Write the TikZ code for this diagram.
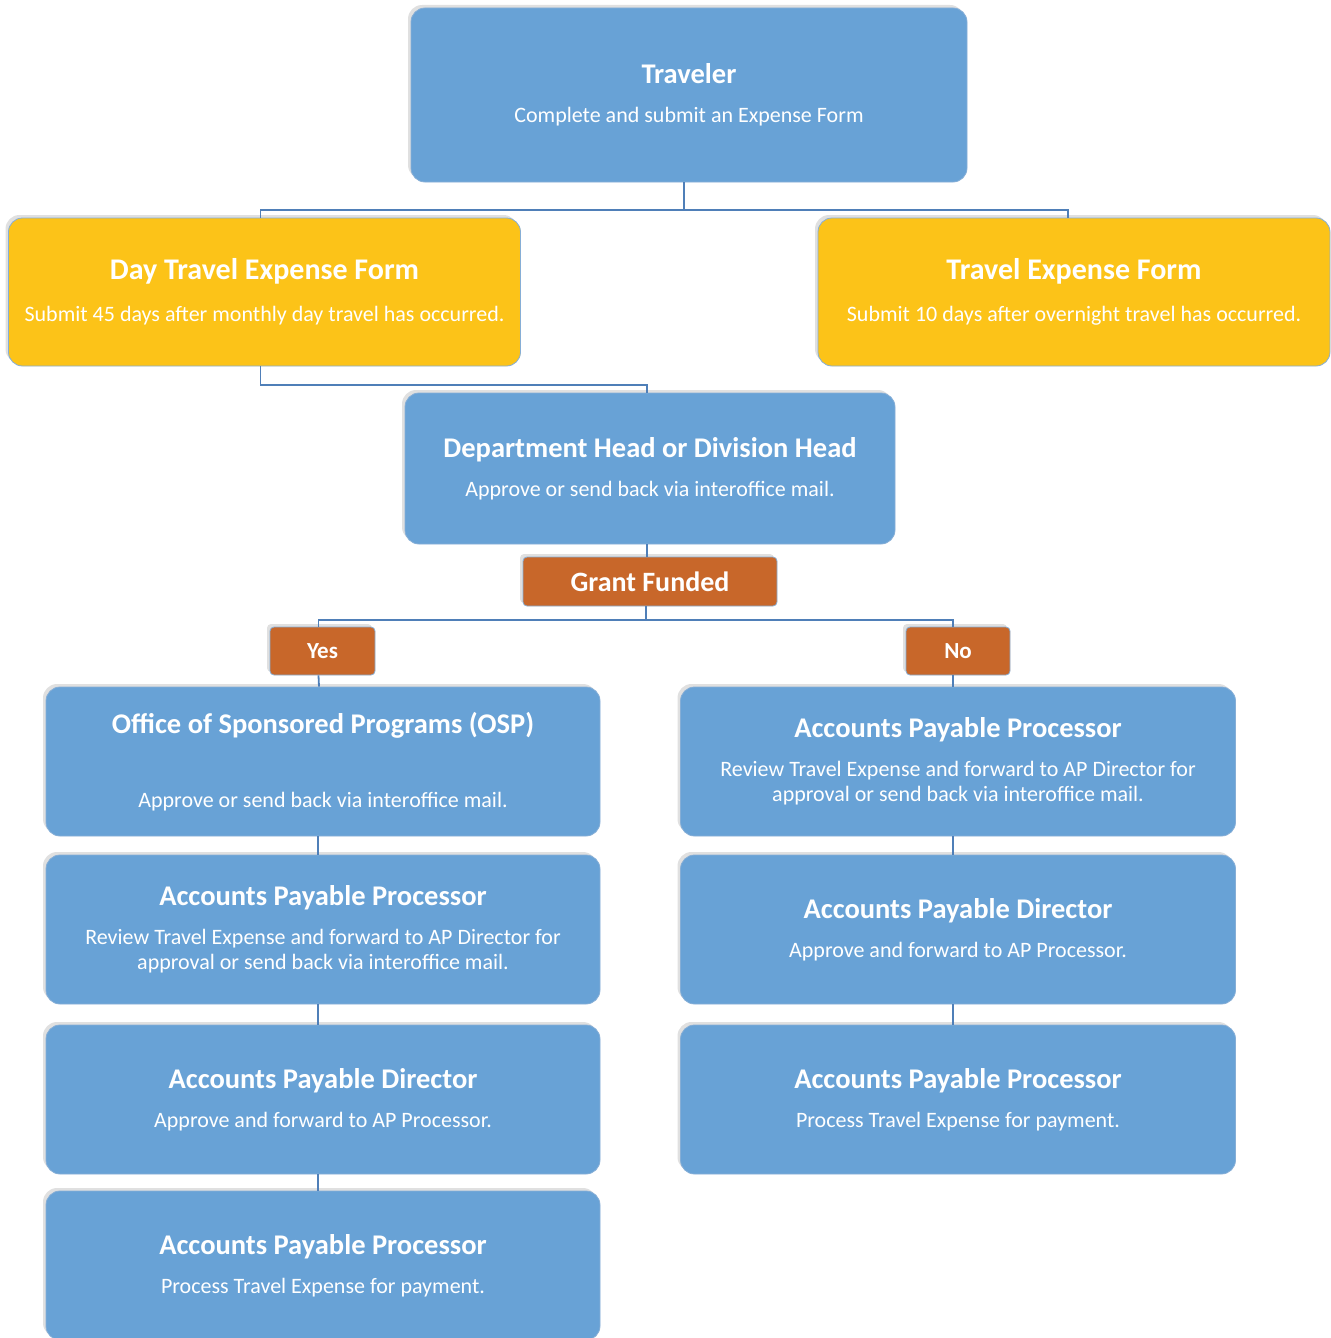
\documentclass[tikz,border=0pt]{standalone}
\usepackage{fontspec}
\setmainfont{Carlito}
\usetikzlibrary{shadows}

\definecolor{boxblue}{HTML}{68A2D6}
\definecolor{formgold}{HTML}{FCC318}
\definecolor{grantorange}{HTML}{C8672A}
\definecolor{linkblue}{HTML}{4F7FB8}
\definecolor{edgeblue}{HTML}{86AED6}

\newcommand{\stepname}[1]{{\bfseries\fontsize{28.5}{32}\selectfont #1}}
\newcommand{\steptext}[3][14pt]{\stepname{#2}\\[#1]#3}

\begin{document}
\begin{tikzpicture}[x=1pt,y=-1pt,
  box/.style={draw=edgeblue, line width=0.8pt, rounded corners=14pt, text=white,
    align=center, inner sep=0pt, font=\fontsize{22}{25}\selectfont,
    drop shadow={shadow xshift=-3pt, shadow yshift=3pt, opacity=0.12, fill=black}},
  bluebox/.style={box, fill=boxblue, minimum width=555pt, minimum height=149pt},
  formbox/.style={box, fill=formgold, minimum width=512pt, minimum height=148pt},
  choice/.style={box, fill=grantorange, rounded corners=4pt,
    font=\bfseries\fontsize{23}{26}\selectfont},
  link/.style={draw=linkblue, line width=1.8pt}
]
\useasboundingbox (0,0) rectangle (1330,1338);

% top of the chart
\node[bluebox, minimum width=556pt, minimum height=174pt] (trav) at (689,95)
  {\steptext{Traveler}{Complete and submit an Expense Form}};
\node[formbox] (day) at (264.5,292)
  {\steptext[17pt]{\fontsize{30}{33}\selectfont Day Travel Expense Form}{Submit 45 days after monthly day travel has occurred.}};
\node[formbox] (ovn) at (1074,292)
  {\steptext[17pt]{\fontsize{30}{33}\selectfont Travel Expense Form}{Submit 10 days after overnight travel has occurred.}};
\node[bluebox, minimum width=490pt, minimum height=151pt] (dept) at (650,468.5)
  {\steptext{Department Head or Division Head}{Approve or send back via interoffice mail.}};

% decision
\node[choice, minimum width=254pt, minimum height=49pt,
  font=\bfseries\fontsize{28}{30}\selectfont] (grant) at (650,581.5) {Grant Funded};
\node[choice, minimum width=105pt, minimum height=48pt] (yes) at (322.5,651) {Yes};
\node[choice, minimum width=104pt, minimum height=48pt] (no) at (958,651) {No};

% left column
\node[bluebox, minimum width=554pt] (osp) at (323,761.5)
  {\steptext[49pt]{Office of Sponsored Programs (OSP)}{Approve or send back via interoffice mail.}};
\node[bluebox, minimum width=554pt] (lap1) at (323,929.5)
  {\steptext{Accounts Payable Processor}{Review Travel Expense and forward to AP Director for\\approval or send back via interoffice mail.}};
\node[bluebox, minimum width=554pt] (ldir) at (323,1099.5)
  {\steptext{Accounts Payable Director}{Approve and forward to AP Processor.}};
\node[bluebox, minimum width=554pt] (lap2) at (323,1265.5)
  {\steptext{Accounts Payable Processor}{Process Travel Expense for payment.}};

% right column
\node[bluebox] (rap1) at (958,761.5)
  {\steptext{Accounts Payable Processor}{Review Travel Expense and forward to AP Director for\\approval or send back via interoffice mail.}};
\node[bluebox] (rdir) at (958,929.5)
  {\steptext{Accounts Payable Director}{Approve and forward to AP Processor.}};
\node[bluebox] (rap2) at (958,1099.5)
  {\steptext{Accounts Payable Processor}{Process Travel Expense for payment.}};

% connectors
\coordinate (split1) at (684,210);
\coordinate (join1) at (647,385);
\coordinate (split2) at (646,620);
\draw[link] (trav.south -| split1) -- (split1);
\draw[link] ([xshift=-4pt]day.north) |- (split1) -| ([xshift=-6pt]ovn.north);
\draw[link] ([xshift=-4pt]day.south) |- (join1) -- (dept.north -| join1);
\draw[link] (dept.south -| join1) -- (grant.north -| join1);
\draw[link] (grant.south -| split2) -- (split2);
\draw[link] ([xshift=-4pt]yes.north) |- (split2) -| ([xshift=-5pt]no.north);
\foreach \a/\b/\s in {yes/osp/-4, osp/lap1/-5, lap1/ldir/-5, ldir/lap2/-5, no/rap1/-5, rap1/rdir/-5, rdir/rap2/-5}
  \draw[link] ([xshift=\s pt]\a.south) -- ([xshift=\s pt]\b.north);

\end{tikzpicture}
\end{document}
